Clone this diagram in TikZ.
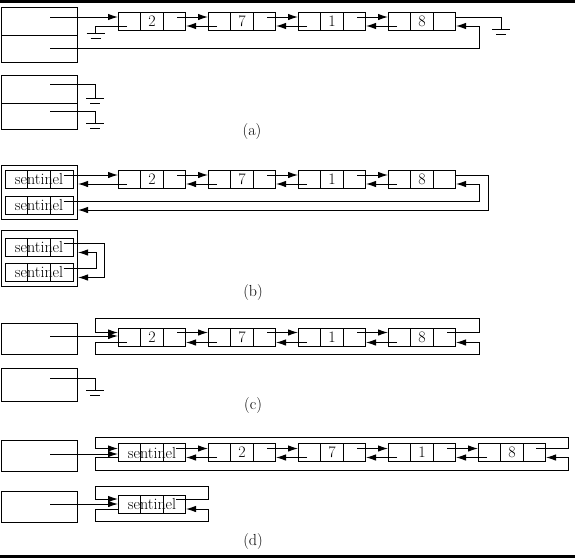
\documentclass[tikz,border=0pt]{standalone}
\usetikzlibrary{arrows.meta,calc}
\begin{document}
\begin{tikzpicture}[x=1pt,y=-1pt,line width=1pt,
  font=\fontsize{16}{19}\selectfont,
  ar/.style={-{Latex[length=10pt,width=6.5pt]}},
  cellbox/.style={draw, minimum width=67pt, minimum height=18pt, inner sep=0pt,
    path picture={
      \draw ($(path picture bounding box.north west)!1/3!(path picture bounding box.north east)$) -- ($(path picture bounding box.south west)!1/3!(path picture bounding box.south east)$);
      \draw ($(path picture bounding box.north west)!2/3!(path picture bounding box.north east)$) -- ($(path picture bounding box.south west)!2/3!(path picture bounding box.south east)$);}},
  hbox/.style={draw, minimum width=76pt, inner sep=0pt},
  caption/.style={inner sep=0pt},
  gnd/.pic={\draw (-9,0) -- (9,0); \draw (-5,5) -- (5,5);},
]
\useasboundingbox (0,0) rectangle (575,558);
\draw[line width=3pt] (0,1.5) -- (575,1.5);
\draw[line width=3pt] (0,556.5) -- (575,556.5);

% ---------------- (a)
\node[hbox, minimum height=28pt] (ah1) at (39.5,21) {};
\node[hbox, minimum height=27pt] (ah2) at (39.5,48.5) {};
\node[cellbox] (a2) at (152,21) {2};
\node[cellbox] (a7) at (242,21) {7};
\node[cellbox] (a1) at (332,21) {1};
\node[cellbox] (a8) at (422,21) {8};
\draw[ar] ($(ah1.center)+(10.5,-4)$) -- ($(a2.west)+(0,-4)$);
\draw[ar] ($(a2.east)+(-9,-4)$) -- ($(a7.west)+(0,-4)$);
\draw[ar] ($(a7.east)+(-9,-4)$) -- ($(a1.west)+(0,-4)$);
\draw[ar] ($(a1.east)+(-9,-4)$) -- ($(a8.west)+(0,-4)$);
\draw[ar] ($(a7.west)+(9,5)$) -- ($(a2.east)+(0,5)$);
\draw[ar] ($(a1.west)+(9,5)$) -- ($(a7.east)+(0,5)$);
\draw[ar] ($(a8.west)+(9,5)$) -- ($(a1.east)+(0,5)$);
\draw ($(a2.west)+(9,5)$) -- ++(-31.5,0) -- ++(0,7) pic {gnd};
\draw ($(a8.east)+(0,-4)$) -- ++(45,0) -- ++(0,12) pic {gnd};
\draw[ar] ($(ah2.center)+(10.5,0)$) -| ($(a8.east)+(23,5)$) -- ($(a8.east)+(0,5)$);

\node[hbox, minimum height=28pt] (ah3) at (39.5,89) {};
\node[hbox, minimum height=26pt] (ah4) at (39.5,116) {};
\draw ($(ah3.center)+(10.5,-5)$) -- ++(45,0) -- ++(0,14) pic {gnd};
\draw ($(ah4.center)+(10.5,-5)$) -- ++(45,0) -- ++(0,12) pic {gnd};
\node[caption] (capa) at (252,132) {(a)};

% ---------------- (b)
\node[hbox, minimum height=54pt] (bo1) at (39.5,192) {};
\node[cellbox, minimum width=68pt] (bs1) at (39,179) {sentinel};
\node[cellbox, minimum width=68pt] (bs2) at (39,205) {sentinel};
\node[cellbox] (b2) at (152,179) {2};
\node[cellbox] (b7) at (242,179) {7};
\node[cellbox] (b1) at (332,179) {1};
\node[cellbox] (b8) at (422,179) {8};
\draw[ar] ($(bs1.east)+(-10,-4)$) -- ($(b2.west)+(0,-4)$);
\draw[ar] ($(b2.east)+(-9,-4)$) -- ($(b7.west)+(0,-4)$);
\draw[ar] ($(b7.east)+(-9,-4)$) -- ($(b1.west)+(0,-4)$);
\draw[ar] ($(b1.east)+(-9,-4)$) -- ($(b8.west)+(0,-4)$);
\draw[ar] ($(b2.west)+(9,5)$) -- ($(bs1.east)+(4.5,5)$);
\draw[ar] ($(b7.west)+(9,5)$) -- ($(b2.east)+(0,5)$);
\draw[ar] ($(b1.west)+(9,5)$) -- ($(b7.east)+(0,5)$);
\draw[ar] ($(b8.west)+(9,5)$) -- ($(b1.east)+(0,5)$);
\draw[ar] ($(bs2.east)+(-10,-4)$) -| ($(b8.east)+(23,5)$) -- ($(b8.east)+(0,5)$);
\draw[ar] ($(b8.east)+(0,-4)$) -- ++(32,0) |- ($(bs2.east)+(4.5,5)$);

\node[hbox, minimum height=56pt] (bo2) at (39.5,258.5) {};
\node[cellbox, minimum width=68pt] (bs3) at (39,247.5) {sentinel};
\node[cellbox, minimum width=68pt] (bs4) at (39,272.5) {sentinel};
\draw[ar] ($(bs3.east)+(-10,-4)$) -| ($(bs4.east)+(31,5)$) -- ($(bs4.east)+(4.5,5)$);
\draw[ar] ($(bs4.east)+(-10,-4)$) -| ($(bs3.east)+(23,5)$) -- ($(bs3.east)+(4.5,5)$);
\node[caption] (capb) at (253,292) {(b)};

% ---------------- (c)
\node[hbox, minimum height=31pt] (ch1) at (39.5,338.5) {};
\node[cellbox] (c2) at (152,337.5) {2};
\node[cellbox] (c7) at (242,337.5) {7};
\node[cellbox] (c1) at (332,337.5) {1};
\node[cellbox] (c8) at (422,337.5) {8};
\draw[ar] ($(ch1.center)+(10.5,-2.5)$) -- ($(c2.west)+(0,-1.5)$);
\draw[ar] ($(c2.east)+(-9,-5)$) -- ($(c7.west)+(0,-5)$);
\draw[ar] ($(c7.east)+(-9,-5)$) -- ($(c1.west)+(0,-5)$);
\draw[ar] ($(c1.east)+(-9,-5)$) -- ($(c8.west)+(0,-5)$);
\draw[ar] ($(c7.west)+(9,5)$) -- ($(c2.east)+(0,5)$);
\draw[ar] ($(c1.west)+(9,5)$) -- ($(c7.east)+(0,5)$);
\draw[ar] ($(c8.west)+(9,5)$) -- ($(c1.east)+(0,5)$);
\draw[ar] ($(c8.east)+(-9,-5)$) -| ($(c8.east)+(23,-19.5)$) -| ($(c2.west)+(-22.5,-5)$) -- ($(c2.west)+(0,-5)$);
\draw[ar] ($(c2.west)+(9,5)$) -| ($(c2.west)+(-22.5,16.5)$) -| ($(c8.east)+(23,5)$) -- ($(c8.east)+(0,5)$);

\node[hbox, minimum height=33pt] (ch2) at (39.5,384.5) {};
\draw ($(ch2.center)+(10.5,-6.5)$) -- ++(45,0) -- ++(0,12) pic {gnd};
\node[caption] (capc) at (253,405) {(c)};

% ---------------- (d)
\node[hbox, minimum height=31pt] (dh1) at (39.5,455.5) {};
\node[cellbox] (ds1) at (152,452.5) {sentinel};
\node[cellbox] (d2) at (242,452.5) {2};
\node[cellbox] (d7) at (332,452.5) {7};
\node[cellbox] (d1) at (422,452.5) {1};
\node[cellbox] (d8) at (512,452.5) {8};
\draw[ar] ($(dh1.center)+(10.5,-1.5)$) -- ($(ds1.west)+(0,1.5)$);
\draw[ar] ($(ds1.east)+(-10,-4)$) -- ($(d2.west)+(0,-4)$);
\draw[ar] ($(d2.east)+(-9,-4)$) -- ($(d7.west)+(0,-4)$);
\draw[ar] ($(d7.east)+(-9,-4)$) -- ($(d1.west)+(0,-4)$);
\draw[ar] ($(d1.east)+(-9,-4)$) -- ($(d8.west)+(0,-4)$);
\draw[ar] ($(d2.west)+(9,5)$) -- ($(ds1.east)+(0,5)$);
\draw[ar] ($(d7.west)+(9,5)$) -- ($(d2.east)+(0,5)$);
\draw[ar] ($(d1.west)+(9,5)$) -- ($(d7.east)+(0,5)$);
\draw[ar] ($(d8.west)+(9,5)$) -- ($(d1.east)+(0,5)$);
\draw[ar] ($(d8.east)+(-10,-4)$) -| ($(d8.east)+(22.5,-15.5)$) -| ($(ds1.west)+(-22.5,-4)$) -- ($(ds1.west)+(0,-4)$);
\draw[ar] ($(ds1.west)+(0,5)$) -| ($(ds1.west)+(-22.5,17.5)$) -| ($(d8.east)+(22.5,5)$) -- ($(d8.east)+(0,5)$);

\node[hbox, minimum height=31pt] (dh2) at (39.5,506.5) {};
\node[cellbox] (ds2) at (152,504) {sentinel};
\draw[ar] ($(dh2.center)+(10.5,-2.5)$) -- (ds2.west);
\draw[ar] ($(ds2.east)+(-10,-5)$) -| ($(ds2.east)+(22.5,-18)$) -| ($(ds2.west)+(-22.5,-5)$) -- ($(ds2.west)+(0,-5)$);
\draw[ar] ($(ds2.west)+(0,5)$) -| ($(ds2.west)+(-22.5,17)$) -| ($(ds2.east)+(22.5,5)$) -- ($(ds2.east)+(0,5)$);
\node[caption] (capd) at (253,541) {(d)};
\end{tikzpicture}
\end{document}
